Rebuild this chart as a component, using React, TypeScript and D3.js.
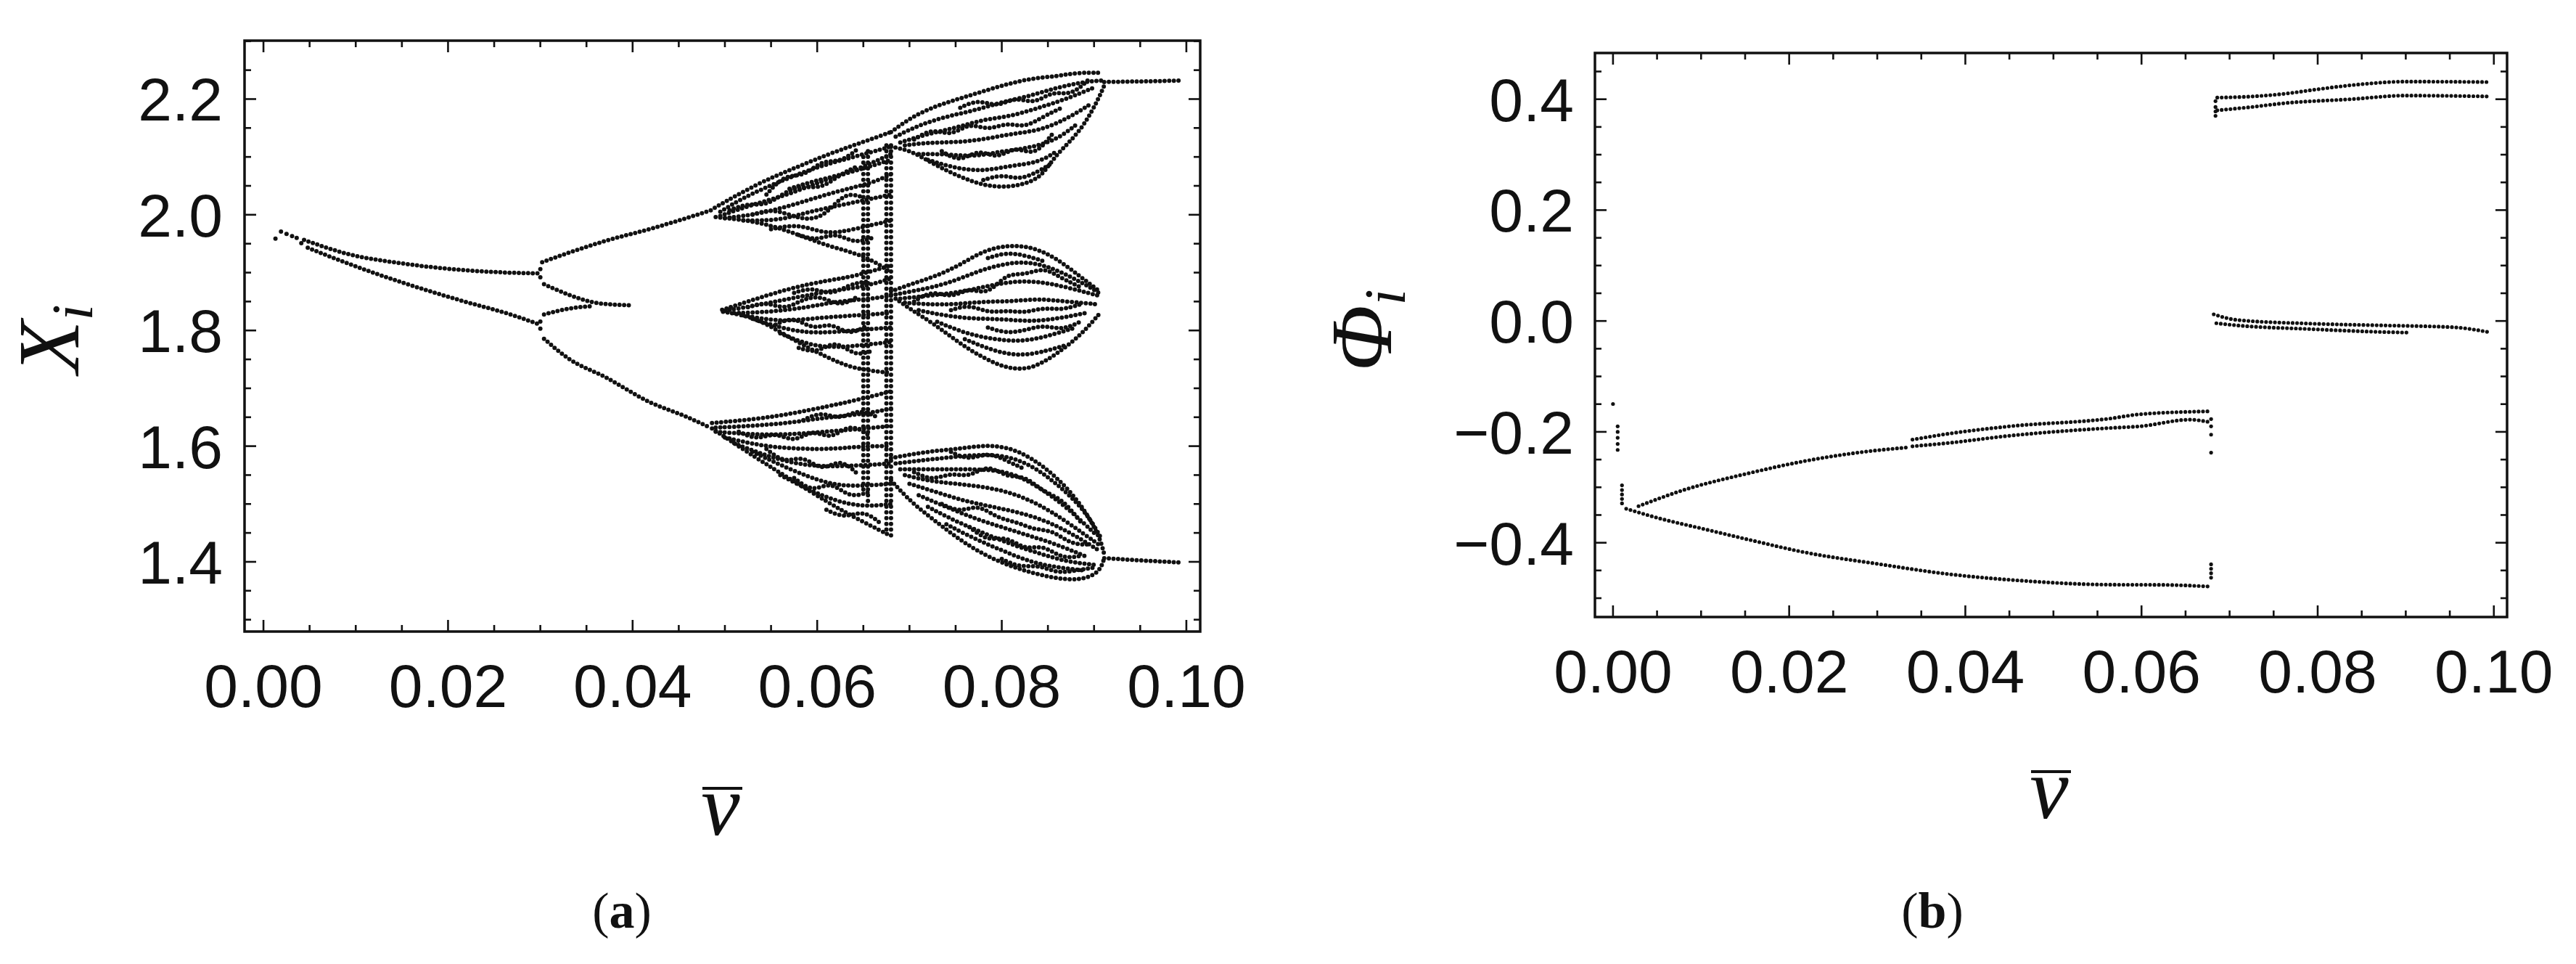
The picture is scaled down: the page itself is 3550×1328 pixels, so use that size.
import React from 'react';
import * as d3 from 'd3';

type P = [number, number];
type Col = { v: number; lo: number; hi: number };

// ---------------- Panel (a): X_i vs v̄ ----------------
const A_X_DOMAIN: P = [-0.00205, 0.1015];
const A_Y_DOMAIN: P = [1.2795, 2.301];
const A_X_TICKS = [0, 0.02, 0.04, 0.06, 0.08, 0.1];
const A_X_TICK_LABELS = ['0.00', '0.02', '0.04', '0.06', '0.08', '0.10'];
const A_Y_TICKS = [1.4, 1.6, 1.8, 2.0, 2.2];
const A_Y_TICK_LABELS = ['1.4', '1.6', '1.8', '2.0', '2.2'];

const aEarlyDots: P[] = [[0.0013, 1.9586], [0.0019, 1.971], [0.0025, 1.967], [0.0031, 1.963], [0.0036, 1.960], [0.0041, 1.951]];
const aTransitionDots: P[] = [[0.0300, 1.906], [0.0300, 1.892], [0.0300, 1.8155], [0.0300, 1.803]];

const aPeriodic: P[][] = [
  [[0.0044, 1.9565], [0.0092, 1.932], [0.0152, 1.9155], [0.0212, 1.905], [0.0272, 1.8996], [0.0298, 1.8987]],
  [[0.0048, 1.943], [0.0092, 1.9155], [0.0152, 1.882], [0.0212, 1.8527], [0.0272, 1.8254], [0.0298, 1.811]],
  [[0.0302, 1.918], [0.0332, 1.935], [0.0371, 1.955], [0.0420, 1.976], [0.0455, 1.9925], [0.0489, 2.010]],
  [[0.0304, 1.880], [0.0332, 1.861], [0.0356, 1.849], [0.0383, 1.8444], [0.0400, 1.8433]],
  [[0.0304, 1.8276], [0.0332, 1.838], [0.0356, 1.842]],
  [[0.0304, 1.7857], [0.0330, 1.752], [0.0371, 1.7188], [0.0420, 1.675], [0.0455, 1.653], [0.0484, 1.632]],
  [[0.0911, 2.2296], [0.0950, 2.2305], [0.0995, 2.232]],
  [[0.0911, 1.4064], [0.0950, 1.4025], [0.0995, 1.3988]],
];

const aUpperBand1: P[][] = [
  [[0.0489, 2.012], [0.0534, 2.053], [0.0573, 2.079], [0.0612, 2.105], [0.0652, 2.127], [0.068, 2.143]],
  [[0.0495, 2.005], [0.052, 2.03], [0.056, 2.058], [0.060, 2.083], [0.064, 2.10], [0.068, 2.118]],
  [[0.0495, 1.998], [0.053, 2.018], [0.057, 2.035], [0.061, 2.062], [0.065, 2.08], [0.068, 2.095]],
  [[0.050, 1.994], [0.054, 2.002], [0.058, 2.02], [0.062, 2.04], [0.066, 2.055], [0.068, 2.07]],
  [[0.052, 1.99], [0.056, 1.99], [0.059, 2.005], [0.063, 2.018], [0.068, 2.035]],
  [[0.049, 1.996], [0.0534, 1.989], [0.0573, 1.970], [0.0612, 1.945], [0.0652, 1.93], [0.068, 1.90]],
  [[0.055, 1.975], [0.058, 1.985], [0.061, 1.965], [0.064, 1.975], [0.068, 1.99]],
  [[0.057, 2.045], [0.060, 2.06], [0.063, 2.07], [0.066, 2.09], [0.068, 2.105]],
  [[0.0505, 2.008], [0.0525, 2.02], [0.0545, 2.015], [0.0565, 2.04], [0.0585, 2.05], [0.0605, 2.045], [0.0625, 2.07], [0.0645, 2.085]],
  [[0.053, 2.0], [0.055, 2.01], [0.057, 2.0], [0.059, 1.99], [0.061, 2.0], [0.063, 2.04], [0.065, 2.03]],
  [[0.058, 1.965], [0.060, 1.955], [0.062, 1.97], [0.064, 1.95], [0.066, 1.96]],
  [[0.0545, 2.035], [0.0565, 2.07], [0.0585, 2.065], [0.0605, 2.095], [0.0625, 2.09], [0.0645, 2.115]],
];
const aMiddleBand1: P[][] = [
  [[0.0497, 1.8356], [0.0534, 1.8548], [0.0573, 1.874], [0.0612, 1.8868], [0.064, 1.8933], [0.068, 1.9125]],
  [[0.050, 1.834], [0.054, 1.845], [0.058, 1.858], [0.062, 1.87], [0.065, 1.875], [0.068, 1.89]],
  [[0.051, 1.83], [0.055, 1.832], [0.059, 1.84], [0.062, 1.85], [0.066, 1.855], [0.068, 1.86]],
  [[0.052, 1.826], [0.056, 1.815], [0.059, 1.82], [0.063, 1.825], [0.068, 1.83]],
  [[0.053, 1.82], [0.057, 1.80], [0.060, 1.795], [0.064, 1.80], [0.068, 1.805]],
  [[0.056, 1.795], [0.059, 1.775], [0.062, 1.77], [0.065, 1.775], [0.068, 1.78]],
  [[0.0498, 1.8324], [0.0534, 1.8228], [0.0573, 1.7843], [0.0612, 1.7523], [0.064, 1.7331], [0.068, 1.7267]],
  [[0.0525, 1.84], [0.0545, 1.85], [0.0565, 1.835], [0.0585, 1.855], [0.0605, 1.86], [0.0625, 1.84], [0.0645, 1.86]],
  [[0.0555, 1.81], [0.0575, 1.825], [0.0595, 1.80], [0.0615, 1.815], [0.0635, 1.79], [0.0655, 1.81]],
  [[0.058, 1.77], [0.060, 1.76], [0.062, 1.785], [0.064, 1.755], [0.066, 1.765]],
  [[0.0575, 1.865], [0.0595, 1.875], [0.0615, 1.86], [0.0635, 1.88], [0.0655, 1.885]],
];
const aLowerBand1: P[][] = [
  [[0.0486, 1.64], [0.0534, 1.6466], [0.0573, 1.6562], [0.0612, 1.669], [0.064, 1.6786], [0.068, 1.6946]],
  [[0.049, 1.632], [0.053, 1.635], [0.057, 1.64], [0.061, 1.65], [0.065, 1.655], [0.068, 1.665]],
  [[0.049, 1.625], [0.053, 1.62], [0.057, 1.62], [0.061, 1.625], [0.065, 1.63], [0.068, 1.635]],
  [[0.050, 1.615], [0.054, 1.60], [0.058, 1.595], [0.062, 1.595], [0.065, 1.60], [0.068, 1.60]],
  [[0.051, 1.605], [0.055, 1.58], [0.059, 1.565], [0.063, 1.565], [0.068, 1.57]],
  [[0.053, 1.59], [0.057, 1.56], [0.061, 1.535], [0.064, 1.53], [0.068, 1.535]],
  [[0.056, 1.55], [0.059, 1.525], [0.062, 1.505], [0.065, 1.495], [0.068, 1.50]],
  [[0.0486, 1.6306], [0.0534, 1.5793], [0.0573, 1.5409], [0.0612, 1.5025], [0.064, 1.4769], [0.068, 1.4448]],
  [[0.0515, 1.625], [0.0535, 1.61], [0.0555, 1.625], [0.0575, 1.605], [0.0595, 1.63], [0.0615, 1.61], [0.0635, 1.64], [0.0655, 1.62]],
  [[0.0545, 1.595], [0.0565, 1.57], [0.0585, 1.585], [0.0605, 1.555], [0.0625, 1.58], [0.0645, 1.55]],
  [[0.0575, 1.545], [0.0595, 1.52], [0.0615, 1.54], [0.0635, 1.51], [0.0655, 1.52]],
  [[0.0585, 1.645], [0.0605, 1.66], [0.0625, 1.645], [0.0645, 1.665], [0.0665, 1.65]],
  [[0.061, 1.49], [0.063, 1.475], [0.065, 1.49], [0.067, 1.465]],
];
const aColumns: Col[] = [
  { v: 0.0650, lo: 1.52, hi: 2.10 },
  { v: 0.0655, lo: 1.50, hi: 2.11 },
  { v: 0.0675, lo: 1.45, hi: 2.12 },
  { v: 0.0680, lo: 1.445, hi: 2.12 },
];
const aUpperLobe2: P[][] = [
  [[0.068, 2.143], [0.0702, 2.1687], [0.0728, 2.1879], [0.0754, 2.2007], [0.078, 2.2135], [0.0807, 2.2264], [0.0833, 2.236], [0.0859, 2.2392], [0.088, 2.2456], [0.0906, 2.2456]],
  [[0.0685, 2.135], [0.071, 2.155], [0.074, 2.17], [0.077, 2.18], [0.080, 2.195], [0.083, 2.205], [0.086, 2.22], [0.089, 2.23], [0.0908, 2.232]],
  [[0.069, 2.125], [0.072, 2.14], [0.075, 2.15], [0.078, 2.165], [0.081, 2.17], [0.084, 2.185], [0.087, 2.2], [0.090, 2.22]],
  [[0.0695, 2.12], [0.072, 2.125], [0.075, 2.125], [0.078, 2.13], [0.081, 2.14], [0.084, 2.145], [0.087, 2.165], [0.0895, 2.19]],
  [[0.071, 2.105], [0.074, 2.105], [0.077, 2.10], [0.080, 2.11], [0.083, 2.115], [0.086, 2.13], [0.088, 2.155]],
  [[0.072, 2.095], [0.075, 2.08], [0.078, 2.075], [0.081, 2.085], [0.084, 2.09], [0.086, 2.11]],
  [[0.068, 2.1175], [0.0702, 2.1111], [0.0728, 2.0854], [0.0754, 2.0662], [0.078, 2.0502], [0.0807, 2.047], [0.0833, 2.0566], [0.0846, 2.0726], [0.0859, 2.1046], [0.0885, 2.1431], [0.0903, 2.1943], [0.0911, 2.2232]],
  [[0.0705, 2.13], [0.0725, 2.15], [0.0745, 2.135], [0.0765, 2.16], [0.0785, 2.145], [0.0805, 2.16], [0.0825, 2.15], [0.0845, 2.17], [0.0865, 2.185]],
  [[0.0735, 2.11], [0.0755, 2.09], [0.0775, 2.115], [0.0795, 2.095], [0.0815, 2.12], [0.0835, 2.10], [0.0855, 2.14]],
  [[0.0755, 2.185], [0.0775, 2.20], [0.0795, 2.185], [0.0815, 2.205], [0.0835, 2.19], [0.0855, 2.215], [0.0875, 2.205], [0.0895, 2.235]],
  [[0.078, 2.06], [0.080, 2.07], [0.082, 2.06], [0.084, 2.075], [0.0855, 2.09]],
];
const aMiddleLobe2: P[][] = [
  [[0.068, 1.8676], [0.0702, 1.8804], [0.0728, 1.8932], [0.0754, 1.9125], [0.078, 1.9381], [0.0807, 1.9477], [0.0833, 1.9445], [0.0859, 1.9253], [0.0885, 1.8932], [0.0906, 1.8676]],
  [[0.0685, 1.862], [0.071, 1.87], [0.074, 1.88], [0.077, 1.90], [0.080, 1.915], [0.083, 1.92], [0.086, 1.905], [0.089, 1.88], [0.0905, 1.865]],
  [[0.069, 1.855], [0.072, 1.86], [0.075, 1.865], [0.078, 1.875], [0.081, 1.885], [0.084, 1.885], [0.087, 1.875], [0.0905, 1.86]],
  [[0.0695, 1.848], [0.072, 1.845], [0.075, 1.845], [0.078, 1.85], [0.081, 1.85], [0.084, 1.855], [0.087, 1.85], [0.0905, 1.845]],
  [[0.071, 1.835], [0.074, 1.825], [0.077, 1.82], [0.080, 1.82], [0.083, 1.815], [0.086, 1.82], [0.089, 1.83]],
  [[0.073, 1.815], [0.076, 1.795], [0.079, 1.785], [0.082, 1.78], [0.085, 1.79], [0.088, 1.805]],
  [[0.076, 1.785], [0.079, 1.765], [0.082, 1.755], [0.085, 1.765], [0.087, 1.775]],
  [[0.0685, 1.855], [0.0702, 1.8356], [0.0728, 1.81], [0.0754, 1.7779], [0.078, 1.7523], [0.0807, 1.7331], [0.0833, 1.7331], [0.0859, 1.7587], [0.0885, 1.7907], [0.0906, 1.8292]],
  [[0.0705, 1.85], [0.0725, 1.87], [0.0745, 1.855], [0.0765, 1.875], [0.0785, 1.86], [0.0805, 1.9], [0.0825, 1.895], [0.0845, 1.91], [0.0865, 1.89], [0.0885, 1.875]],
  [[0.0745, 1.835], [0.0765, 1.845], [0.0785, 1.83], [0.0805, 1.835], [0.0825, 1.83], [0.0845, 1.84], [0.0865, 1.835], [0.0885, 1.845]],
  [[0.0785, 1.805], [0.0805, 1.795], [0.0825, 1.80], [0.0845, 1.81], [0.0865, 1.80], [0.0885, 1.815]],
  [[0.0785, 1.925], [0.0805, 1.935], [0.0825, 1.93], [0.0845, 1.92]],
];
const aLowerLobe2: P[][] = [
  [[0.068, 1.5793], [0.0702, 1.5857], [0.0728, 1.5921], [0.0754, 1.5953], [0.078, 1.6018], [0.0807, 1.5986], [0.0833, 1.5793], [0.0859, 1.5473], [0.0885, 1.5025], [0.0906, 1.4448], [0.0911, 1.4128]],
  [[0.0685, 1.57], [0.071, 1.575], [0.074, 1.58], [0.077, 1.585], [0.080, 1.585], [0.083, 1.57], [0.086, 1.535], [0.089, 1.49], [0.0908, 1.44]],
  [[0.069, 1.56], [0.072, 1.56], [0.075, 1.56], [0.078, 1.56], [0.081, 1.555], [0.084, 1.53], [0.087, 1.495], [0.090, 1.45]],
  [[0.0695, 1.55], [0.072, 1.54], [0.075, 1.535], [0.078, 1.53], [0.081, 1.52], [0.084, 1.50], [0.087, 1.47], [0.0905, 1.43]],
  [[0.070, 1.535], [0.073, 1.52], [0.076, 1.505], [0.079, 1.495], [0.082, 1.485], [0.085, 1.47], [0.088, 1.445], [0.0905, 1.42]],
  [[0.071, 1.515], [0.074, 1.495], [0.077, 1.475], [0.080, 1.46], [0.083, 1.445], [0.086, 1.43], [0.089, 1.41]],
  [[0.072, 1.495], [0.075, 1.47], [0.078, 1.45], [0.081, 1.43], [0.084, 1.415], [0.087, 1.40], [0.090, 1.395]],
  [[0.074, 1.465], [0.077, 1.44], [0.080, 1.42], [0.083, 1.40], [0.086, 1.39], [0.089, 1.385]],
  [[0.068, 1.5409], [0.0702, 1.5025], [0.0728, 1.4705], [0.0754, 1.4384], [0.078, 1.4128], [0.0807, 1.3936], [0.0833, 1.3808], [0.0859, 1.3712], [0.0885, 1.368], [0.0906, 1.3808], [0.0911, 1.4064]],
  [[0.0705, 1.555], [0.0725, 1.54], [0.0745, 1.555], [0.0765, 1.545], [0.0785, 1.57], [0.0805, 1.545], [0.0825, 1.55], [0.0845, 1.52], [0.0865, 1.51], [0.0885, 1.47]],
  [[0.0735, 1.50], [0.0755, 1.485], [0.0775, 1.50], [0.0795, 1.475], [0.0815, 1.47], [0.0835, 1.455], [0.0855, 1.455], [0.0875, 1.43], [0.0895, 1.43]],
  [[0.0765, 1.46], [0.0785, 1.435], [0.0805, 1.445], [0.0825, 1.42], [0.0845, 1.43], [0.0865, 1.405], [0.0885, 1.41]],
  [[0.080, 1.405], [0.082, 1.39], [0.084, 1.395], [0.086, 1.38], [0.088, 1.385], [0.090, 1.39]],
  [[0.0745, 1.59], [0.0765, 1.575], [0.0785, 1.59], [0.0805, 1.575], [0.0825, 1.56]],
];

// ---------------- Panel (b): Φ_i vs v̄ ----------------
const B_X_DOMAIN: P = [-0.00205, 0.1015];
const B_Y_DOMAIN: P = [-0.534, 0.4834];
const B_X_TICKS = [0, 0.02, 0.04, 0.06, 0.08, 0.1];
const B_X_TICK_LABELS = ['0.00', '0.02', '0.04', '0.06', '0.08', '0.10'];
const B_Y_TICKS = [-0.4, -0.2, 0, 0.2, 0.4];
const B_Y_TICK_LABELS = ['\u22120.4', '\u22120.2', '0.0', '0.2', '0.4'];

const bDots: P[] = [
  [0.0000, -0.1497],
  [0.00053, -0.190], [0.00053, -0.200], [0.00053, -0.2107], [0.00053, -0.2218], [0.00053, -0.2325],
  [0.00102, -0.2965], [0.00102, -0.305], [0.00102, -0.313], [0.00102, -0.321], [0.00102, -0.329],
  [0.0679, -0.177], [0.0679, -0.19], [0.0679, -0.205], [0.0679, -0.2375],
  [0.0679, -0.439], [0.0679, -0.447], [0.0679, -0.455], [0.0679, -0.463],
  [0.0684, 0.370], [0.0684, 0.378], [0.0684, 0.386], [0.0684, 0.3965],
];
const bBranches: P[][] = [
  [[0.0029, -0.334], [0.008, -0.305], [0.0153, -0.275], [0.022, -0.252], [0.028, -0.237], [0.0335, -0.228]],
  [[0.034, -0.214], [0.0378, -0.204], [0.045, -0.19], [0.0564, -0.176], [0.0598, -0.1683], [0.0675, -0.163]],
  [[0.034, -0.226], [0.0378, -0.2205], [0.045, -0.207], [0.0564, -0.193], [0.0598, -0.19], [0.0655, -0.178], [0.0675, -0.1817]],
  [[0.0015, -0.3387], [0.0055, -0.357], [0.0100, -0.374], [0.0153, -0.394], [0.0220, -0.418], [0.030, -0.438], [0.0378, -0.456], [0.046, -0.468], [0.0564, -0.4756], [0.0625, -0.476], [0.0677, -0.479]],
  [[0.0686, 0.403], [0.0725, 0.405], [0.0763, 0.41], [0.080, 0.418], [0.0845, 0.4264], [0.090, 0.4318], [0.0996, 0.431]],
  [[0.0686, 0.380], [0.0725, 0.386], [0.0763, 0.393], [0.0837, 0.400], [0.090, 0.4066], [0.0996, 0.405]],
  [[0.0682, 0.012], [0.0708, 0.002], [0.079, -0.0046], [0.0872, -0.0079], [0.0954, -0.0113], [0.0994, -0.02]],
  [[0.0685, -0.004], [0.0708, -0.0079], [0.079, -0.0145], [0.0872, -0.0198], [0.0905, -0.021]],
];

const INK = '#111';
const TICK_FONT = '"Liberation Sans", Arial, Helvetica, sans-serif';
const SERIF = '"Liberation Serif", "Times New Roman", serif';

type PanelProps = {
  x: d3.ScaleLinear<number, number>;
  y: d3.ScaleLinear<number, number>;
  xTicks: number[]; xLabels: string[];
  yTicks: number[]; yLabels: string[];
  yLabelRight: number;
  strands: P[][];
  chaos: P[][];
  columns: Col[];
  dots: P[];
  dotSize: number;
  dotGap: number;
};

function Panel({ x, y, xTicks, xLabels, yTicks, yLabels, yLabelRight, strands, chaos, columns, dots, dotSize, dotGap }: PanelProps) {
  const [x0, x1] = x.range();
  const [y0, y1] = y.range();
  const line = d3.line<P>().x(d => x(d[0])).y(d => y(d[1])).curve(d3.curveMonotoneX);
  const soft = d3.line<P>().x(d => x(d[0])).y(d => y(d[1])).curve(d3.curveBasis);
  const minorX = x.ticks(20);
  const minorY = y.ticks(20);
  const isMajor = (v: number, arr: number[]) => arr.some(t => Math.abs(t - v) < 1e-9);
  const MAJ = 16, MIN = 9;
  return (
    <g>
      {strands.map((s, i) => (
        <path key={'s' + i} d={line(s) || ''} fill="none" stroke={INK} strokeWidth={dotSize}
          strokeLinecap="round" strokeDasharray={`0 ${dotGap}`} />
      ))}
      {chaos.map((s, i) => (
        <path key={'h' + i} d={soft(s) || ''} fill="none" stroke={INK} strokeWidth={dotSize}
          strokeLinecap="round" strokeDasharray={`0 ${dotGap}`} />
      ))}
      {columns.map((c, i) => (
        <line key={'c' + i} x1={x(c.v)} x2={x(c.v)} y1={y(c.hi)} y2={y(c.lo)} stroke={INK}
          strokeWidth={dotSize} strokeLinecap="round" strokeDasharray={`0 ${dotGap + 1.5}`} />
      ))}
      {dots.map((d, i) => (
        <circle key={'d' + i} cx={x(d[0])} cy={y(d[1])} r={dotSize / 2} fill={INK} />
      ))}
      <rect x={x0} y={y1} width={x1 - x0} height={y0 - y1} fill="none" stroke={INK} strokeWidth={3.5} />
      {minorX.map((t, i) => {
        const len = isMajor(t, xTicks) ? MAJ : MIN;
        return (
          <g key={'xt' + i} stroke={INK} strokeWidth={2.6}>
            <line x1={x(t)} x2={x(t)} y1={y0} y2={y0 - len} />
            <line x1={x(t)} x2={x(t)} y1={y1} y2={y1 + len} />
          </g>
        );
      })}
      {minorY.map((t, i) => {
        const len = isMajor(t, yTicks) ? MAJ : MIN;
        return (
          <g key={'yt' + i} stroke={INK} strokeWidth={2.6}>
            <line x1={x0} x2={x0 + len} y1={y(t)} y2={y(t)} />
            <line x1={x1} x2={x1 - len} y1={y(t)} y2={y(t)} />
          </g>
        );
      })}
      {xTicks.map((t, i) => (
        <text key={'xl' + i} x={x(t)} y={y0 + 104} textAnchor="middle" fontFamily={TICK_FONT} fontSize={84} fill={INK}>
          {xLabels[i]}
        </text>
      ))}
      {yTicks.map((t, i) => (
        <text key={'yl' + i} x={yLabelRight} y={y(t) + 30} textAnchor="end" fontFamily={TICK_FONT} fontSize={84} fill={INK}>
          {yLabels[i]}
        </text>
      ))}
    </g>
  );
}

export default function App() {
  const ax = d3.scaleLinear().domain(A_X_DOMAIN).range([337, 1654]);
  const ay = d3.scaleLinear().domain(A_Y_DOMAIN).range([870, 56]);
  const bx = d3.scaleLinear().domain(B_X_DOMAIN).range([2198, 3455]);
  const by = d3.scaleLinear().domain(B_Y_DOMAIN).range([850, 73]);

  const aChaos = [...aUpperBand1, ...aMiddleBand1, ...aLowerBand1, ...aUpperLobe2, ...aMiddleLobe2, ...aLowerLobe2];
  const aDots = [...aEarlyDots, ...aTransitionDots];

  return (
    <svg width={3550} height={1328} viewBox="0 0 3550 1328"
      style={{ position: 'absolute', left: 0, top: 0, background: '#fff' }}>
      <rect x={0} y={0} width={3550} height={1328} fill="#fff" />
      <Panel x={ax} y={ay} xTicks={A_X_TICKS} xLabels={A_X_TICK_LABELS} yTicks={A_Y_TICKS} yLabels={A_Y_TICK_LABELS}
        yLabelRight={307} strands={aPeriodic} chaos={aChaos} columns={aColumns} dots={aDots} dotSize={6} dotGap={6.4} />
      <Panel x={bx} y={by} xTicks={B_X_TICKS} xLabels={B_X_TICK_LABELS} yTicks={B_Y_TICKS} yLabels={B_Y_TICK_LABELS}
        yLabelRight={2169} strands={bBranches} chaos={[]} columns={[]} dots={bDots} dotSize={5.2} dotGap={6.1} />

      <text transform="translate(108,467) rotate(-90)" textAnchor="middle" fontFamily={SERIF} fontStyle="italic" fontSize={120} fill={INK}>
        X<tspan fontSize={80} dy={19}>i</tspan>
      </text>
      <text x={993} y={1150} textAnchor="middle" fontFamily={SERIF} fontStyle="italic" fontSize={120} fill={INK}>v</text>
      <line x1={968} x2={1023} y1={1086} y2={1086} stroke={INK} strokeWidth={4} />
      <text x={857} y={1278} textAnchor="middle" fontFamily={SERIF} fontSize={70} fill={INK}>
        (<tspan fontWeight="bold">a</tspan>)
      </text>

      <text transform="translate(1917,455) rotate(-90)" textAnchor="middle" fontFamily={SERIF} fontStyle="italic" fontSize={120} fill={INK}>
        Φ<tspan fontSize={80} dy={19}>i</tspan>
      </text>
      <text x={2824} y={1127} textAnchor="middle" fontFamily={SERIF} fontStyle="italic" fontSize={120} fill={INK}>v</text>
      <line x1={2799} x2={2854} y1={1063} y2={1063} stroke={INK} strokeWidth={4} />
      <text x={2663} y={1278} textAnchor="middle" fontFamily={SERIF} fontSize={70} fill={INK}>
        (<tspan fontWeight="bold">b</tspan>)
      </text>
    </svg>
  );
}
